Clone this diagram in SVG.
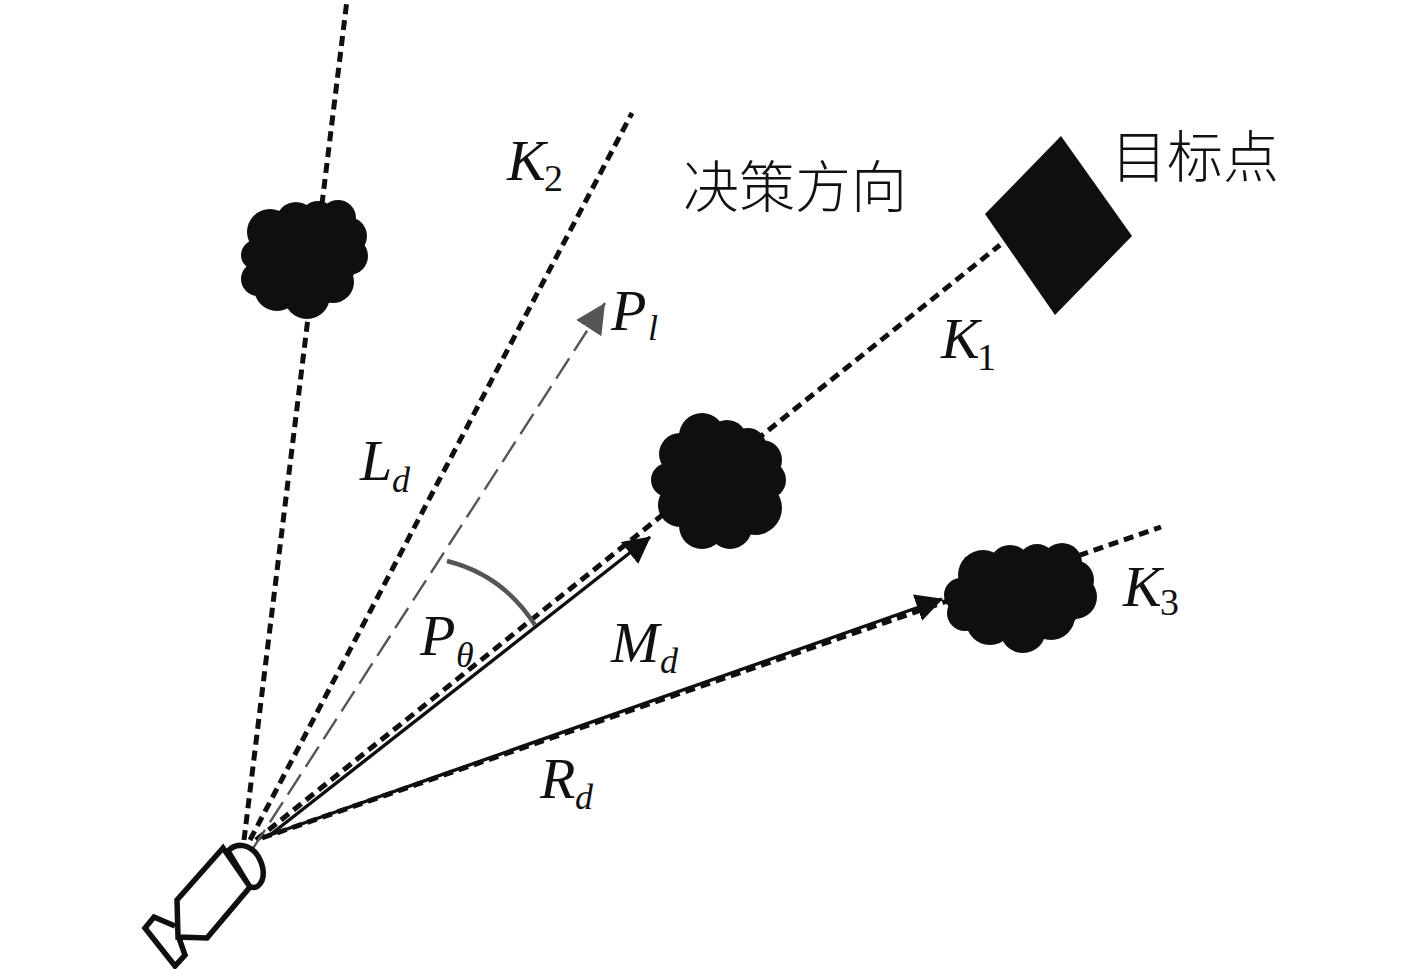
<svg xmlns="http://www.w3.org/2000/svg" width="1417" height="969" viewBox="0 0 1417 969">
<style>
.d{fill:none;stroke:#0f0f0f;stroke-width:5;stroke-dasharray:10 6}
.s{fill:none;stroke:#0f0f0f;stroke-width:3.4}
.g{fill:none;stroke:#555;stroke-width:2.4;stroke-dasharray:24 9}
.c{fill:#0f0f0f}
.o{fill:#fff;stroke:#0f0f0f;stroke-width:5.5;stroke-linejoin:miter}
text{font-family:"Liberation Serif","Noto Sans CJK SC",serif;fill:#111}
.i{font-style:italic;font-size:58px}
.b{font-size:38px}
.bi{font-style:italic;font-size:36px}
.z{font-family:"Noto Sans CJK SC","Liberation Serif",serif;font-size:56px;font-weight:300}
</style>
<defs>
<marker id="a" markerUnits="userSpaceOnUse" markerWidth="30" markerHeight="30" refX="26" refY="14" orient="auto"><path d="M0 0L27 14L0 28Z" fill="#0f0f0f"/></marker>
<marker id="ag" markerUnits="userSpaceOnUse" markerWidth="36" markerHeight="32" refX="30" refY="15" orient="auto"><path d="M0 0L30 15L0 30Z" fill="#555"/></marker>
</defs>
<g id="connectors">
<line class="d" x1="244" y1="840" x2="347" y2="0"/>
<line class="d" x1="250" y1="840" x2="632" y2="113"/>
<line class="d" x1="256" y1="840" x2="1000" y2="245"/>
<line class="d" x1="262" y1="838" x2="1161" y2="527"/>
<line class="g" x1="252" y1="850" x2="605" y2="303" marker-end="url(#ag)"/>
<line class="s" x1="270" y1="835" x2="650" y2="537" marker-end="url(#a)"/>
<line class="s" x1="270" y1="835" x2="942" y2="599" marker-end="url(#a)"/>
<path d="M447 561Q503 575 535 625" fill="none" stroke="#555" stroke-width="4.5"/>
</g>
<g id="cloud-top" class="c">
<ellipse cx="305" cy="258" rx="52" ry="48"/>
<circle cx="270" cy="232" r="23"/><circle cx="296" cy="222" r="20"/><circle cx="318" cy="219" r="18"/><circle cx="338" cy="218" r="18"/><circle cx="348" cy="236" r="19"/><circle cx="349" cy="256" r="19"/><circle cx="333" cy="282" r="21"/><circle cx="307" cy="296" r="23"/><circle cx="277" cy="288" r="23"/><circle cx="258" cy="279" r="17"/><circle cx="256" cy="255" r="15"/>
</g>
<g id="cloud-mid" class="c">
<circle cx="718" cy="480" r="50"/>
<circle cx="702" cy="436" r="23"/><circle cx="727" cy="440" r="20"/><circle cx="748" cy="446" r="18"/><circle cx="762" cy="460" r="20"/><circle cx="767" cy="480" r="19"/><circle cx="755" cy="508" r="27"/><circle cx="730" cy="527" r="22"/><circle cx="702" cy="526" r="23"/><circle cx="680" cy="505" r="22"/><circle cx="668" cy="480" r="17"/><circle cx="680" cy="454" r="21"/>
</g>
<g id="cloud-right" class="c">
<ellipse cx="1020" cy="597" rx="65" ry="44"/>
<circle cx="961" cy="595" r="17"/><circle cx="983" cy="575" r="25"/><circle cx="1010" cy="566" r="21"/><circle cx="1037" cy="563" r="19"/><circle cx="1062" cy="563" r="20"/><circle cx="1074" cy="580" r="20"/><circle cx="1075" cy="597" r="22"/><circle cx="1051" cy="616" r="24"/><circle cx="1023" cy="630" r="23"/><circle cx="990" cy="621" r="24"/><circle cx="965" cy="613" r="18"/>
</g>
<g id="target"><polygon class="c" points="1061,136 1132,236 1055,315 985,214"/></g>
<g id="camera">
<path class="o" d="M175 926L154 917L145 928L175 966L185 955L179 938"/>
<path class="o" d="M228 851C236 842 250 844 258 856C265 868 265 880 258 886C255 888 252 888 249 886Z"/>
<polygon class="o" points="223,848 177,900 178,937 207,938 250,887"/>
</g>
<g id="labels">
<text class="i" x="507" y="180">K</text><text class="b" x="544" y="191">2</text>
<text class="i" x="941" y="358">K</text><text class="b" x="977" y="370">1</text>
<text class="i" x="1123" y="606">K</text><text class="b" x="1160" y="615">3</text>
<text class="i" x="611" y="330">P</text><text class="bi" x="648" y="340">l</text>
<text class="i" x="360" y="480">L</text><text class="bi" x="392" y="492">d</text>
<text class="i" x="420" y="655">P</text><text class="bi" x="456" y="667">θ</text>
<text class="i" x="611" y="662">M</text><text class="bi" x="660" y="673">d</text>
<text class="i" x="540" y="798">R</text><text class="bi" x="575" y="809">d</text>
<text class="z" x="683" y="207">决策方向</text>
<text class="z" x="1111" y="177">目标点</text>
</g>
</svg>
